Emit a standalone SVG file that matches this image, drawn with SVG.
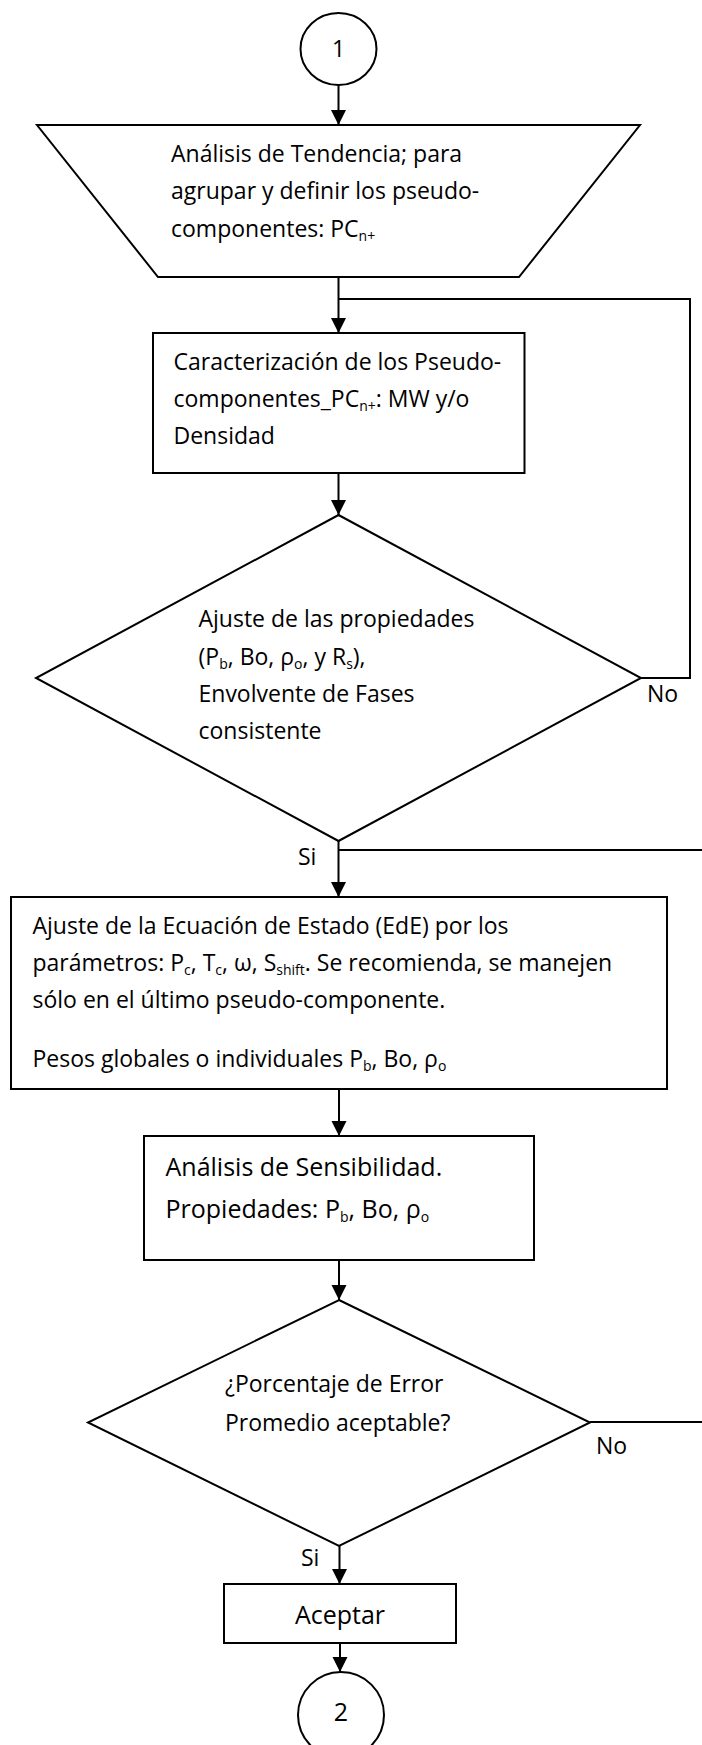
<svg xmlns="http://www.w3.org/2000/svg" width="702" height="1745" viewBox="0 0 702 1745">
<style>
.s{fill:#fff;stroke:#000;stroke-width:2}
.c{fill:none;stroke:#000;stroke-width:2}
text{font-family:"Open Sans","Noto Sans","Liberation Sans",sans-serif;font-size:23px;fill:#000}
.b{font-size:25px}
.sub{font-size:14px}
</style>
<defs>
<marker id="ah" markerUnits="userSpaceOnUse" markerWidth="16" markerHeight="16" refX="15" refY="7.5" orient="auto">
<path d="M0,0 L15,7.5 L0,15 z" fill="#000"/>
</marker>
</defs>
<rect width="702" height="1745" fill="#fff"/>
<g id="connectors">
<line class="c" x1="338.5" y1="85" x2="338.5" y2="125" marker-end="url(#ah)"/>
<line class="c" x1="338.5" y1="277" x2="338.5" y2="333" marker-end="url(#ah)"/>
<polyline class="c" points="641,678 690,678 690,299 338.5,299"/>
<line class="c" x1="338.5" y1="473" x2="338.5" y2="515" marker-end="url(#ah)"/>
<line class="c" x1="338.5" y1="841" x2="338.5" y2="897" marker-end="url(#ah)"/>
<polyline class="c" points="590,1422 705,1422 705,850 338.5,850"/>
<line class="c" x1="339" y1="1089" x2="339" y2="1136" marker-end="url(#ah)"/>
<line class="c" x1="339" y1="1260" x2="339" y2="1300" marker-end="url(#ah)"/>
<line class="c" x1="339.5" y1="1546" x2="339.5" y2="1584" marker-end="url(#ah)"/>
<line class="c" x1="340" y1="1643" x2="340" y2="1672" marker-end="url(#ah)"/>
<text x="647" y="702">No</text>
<text x="298" y="865">Si</text>
<text x="596" y="1454">No</text>
<text x="301" y="1566">Si</text>
</g>
<g id="start">
<ellipse class="s" cx="338.5" cy="49" rx="38" ry="36"/>
<text x="338.5" y="57" text-anchor="middle">1</text>
</g>
<g id="tendencia">
<polygon class="s" points="37,125 640,125 519,277 158,277"/>
<text x="171" y="162">Análisis de Tendencia; para</text>
<text x="171" y="199">agrupar y definir los pseudo-</text>
<text x="171" y="237">componentes: PC<tspan class="sub" dy="4">n+</tspan></text>
</g>
<g id="caracterizacion">
<rect class="s" x="153" y="333" width="371.5" height="140"/>
<text x="173.5" y="370">Caracterización de los Pseudo-</text>
<text x="173.5" y="407">componentes_PC<tspan class="sub" dy="4">n+</tspan><tspan dy="-4">: MW y/o</tspan></text>
<text x="173.5" y="444">Densidad</text>
</g>
<g id="ajuste-propiedades">
<polygon class="s" points="338.5,515 641,678 338.5,841 36,678"/>
<text x="198.5" y="627">Ajuste de las propiedades</text>
<text x="198.5" y="665">(P<tspan class="sub" dy="4">b</tspan><tspan dy="-4">, Bo, ρ</tspan><tspan class="sub" dy="4">o</tspan><tspan dy="-4">, y R</tspan><tspan class="sub" dy="4">s</tspan><tspan dy="-4">),</tspan></text>
<text x="198.5" y="702">Envolvente de Fases</text>
<text x="198.5" y="739">consistente</text>
</g>
<g id="ajuste-ede">
<rect class="s" x="11" y="897" width="656" height="192"/>
<text x="32.5" y="934">Ajuste de la Ecuación de Estado (EdE) por los</text>
<text x="32.5" y="971">parámetros: P<tspan class="sub" dy="4">c</tspan><tspan dy="-4">, T</tspan><tspan class="sub" dy="4">c</tspan><tspan dy="-4">, ω, S</tspan><tspan class="sub" dy="4">shift</tspan><tspan dy="-4">. Se recomienda, se manejen</tspan></text>
<text x="32.5" y="1008">sólo en el último pseudo-componente.</text>
<text x="32.5" y="1067">Pesos globales o individuales P<tspan class="sub" dy="4">b</tspan><tspan dy="-4">, Bo, ρ</tspan><tspan class="sub" dy="4">o</tspan></text>
</g>
<g id="sensibilidad">
<rect class="s" x="144" y="1136" width="390" height="124"/>
<text class="b" x="165.5" y="1176">Análisis de Sensibilidad.</text>
<text class="b" x="165.5" y="1218">Propiedades: P<tspan class="sub" dy="4">b</tspan><tspan dy="-4">, Bo, ρ</tspan><tspan class="sub" dy="4">o</tspan></text>
</g>
<g id="error">
<polygon class="s" points="339,1300 590,1422.5 339,1546 88,1422.5"/>
<text x="225" y="1392">¿Porcentaje de Error</text>
<text x="225" y="1431">Promedio aceptable?</text>
</g>
<g id="aceptar">
<rect class="s" x="224" y="1584" width="232" height="59"/>
<text class="b" x="340" y="1624" text-anchor="middle">Aceptar</text>
</g>
<g id="end">
<ellipse class="s" cx="341" cy="1715" rx="43" ry="43"/>
<text class="b" x="341" y="1721" text-anchor="middle">2</text>
</g>
</svg>
